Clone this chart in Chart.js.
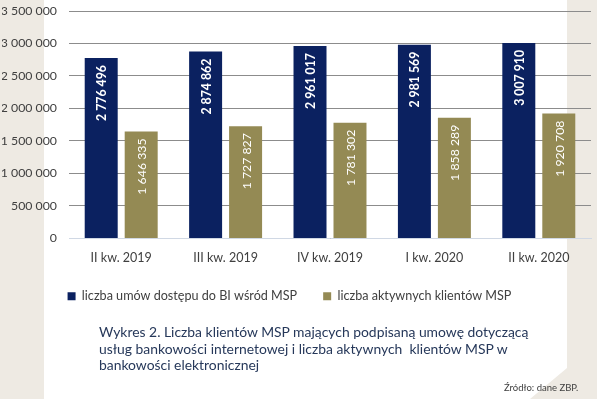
<!DOCTYPE html>
<html>
<head>
<meta charset="utf-8">
<script src="https://cdn.jsdelivr.net/npm/chart.js@4/dist/chart.umd.min.js"></script>
<style>
  html, body { margin: 0; padding: 0; }
  body { width: 597px; height: 399px; position: relative; overflow: hidden; background: #eeeae3; font-family: Lato, sans-serif; }
  #panel { position: absolute; left: 44px; top: 0; width: 523px; height: 399px; background: #fff;
           clip-path: polygon(0 0, 100% 0, 100% 368px, 486px 399px, 0 399px); }
  #wrap { position: absolute; left: 0; top: 0; width: 597px; height: 399px; }
  #caption { position: absolute; left: 99px; top: 324px; white-space: nowrap; font-size: 13.9px; line-height: 16.5px; color: #26385a; }
  #source { position: absolute; left: 504px; top: 382px; font-size: 9.5px; color: #404040; }
</style>
</head>
<body>
<div id="panel"></div>
<div id="wrap"><canvas id="chart" width="597" height="399"></canvas></div>
<div id="caption">Wykres 2. Liczba klientów MSP mających podpisaną umowę dotyczącą<br>usług bankowości internetowej i liczba aktywnych&nbsp; klientów MSP w<br>bankowości elektronicznej</div>
<div id="source">Źródło: dane ZBP.</div>
<script>
const quarters = ['II kw. 2019', 'III kw. 2019', 'IV kw. 2019', 'I kw. 2020', 'II kw. 2020'];
const agreements = [2776496, 2874862, 2961017, 2981569, 3007910];
const activeClients = [1646335, 1727827, 1781302, 1858289, 1920708];
const seriesNames = ['liczba umów dostępu do BI wśród MSP', 'liczba aktywnych klientów MSP'];
const yTicks = [0, 500000, 1000000, 1500000, 2000000, 2500000, 3000000, 3500000];

const fmt = v => String(v).replace(/\B(?=(\d{3})+(?!\d))/g, ' ');

// rotated value labels inside the top of each bar
const barLabels = {
  id: 'barLabels',
  afterLayout(chart) {
    // legend sits a bit left of centre in the original
    chart.legend.left -= 7;
    chart.legend.right -= 7;
  },
  afterDatasetsDraw(chart) {
    const ctx = chart.ctx;
    chart.data.datasets.forEach((ds, i) => {
      const meta = chart.getDatasetMeta(i);
      meta.data.forEach((bar, j) => {
        ctx.save();
        ctx.translate(bar.x, bar.y + 7);
        ctx.rotate(-Math.PI / 2);
        ctx.font = (i === 0 ? 'bold ' : '') + '12.3px Lato';
        ctx.fillStyle = '#fff';
        ctx.textAlign = 'right';
        ctx.textBaseline = 'middle';
        ctx.fillText(fmt(ds.data[j]), 0, 1);
        ctx.restore();
      });
    });
  }
};

new Chart(document.getElementById('chart'), {
  type: 'bar',
  data: {
    labels: quarters,
    datasets: [
      { label: seriesNames[0], data: agreements, backgroundColor: '#0b2160' },
      { label: seriesNames[1], data: activeClients, backgroundColor: '#948a54' }
    ]
  },
  options: {
    responsive: false,
    animation: false,
    categoryPercentage: 0.766,
    barPercentage: 0.825,
    layout: { padding: { left: 2, right: 6, top: 11, bottom: 86.5 } },
    plugins: {
      legend: {
        position: 'bottom',
        labels: {
          boxWidth: 8, boxHeight: 8, padding: 26,
          color: '#404040',
          font: { family: 'Lato', size: 12.6 }
        }
      },
      tooltip: { enabled: false }
    },
    scales: {
      x: {
        afterFit(scale) { scale.height -= 5.5; },
        grid: { display: false },
        border: { color: '#d0d8e4' },
        ticks: { color: '#404040', padding: 4, font: { family: 'Lato', size: 12.5 } }
      },
      y: {
        min: 0, max: 3500000,
        afterFit(scale) { scale.width = 67; },
        afterBuildTicks(scale) { scale.ticks = yTicks.map(v => ({ value: v })); },
        grid: { color: '#8c8c8c', tickLength: 11, tickColor: 'rgba(0,0,0,0)' },
        border: { display: false },
        ticks: { color: '#404040', padding: 1, font: { family: 'Lato', size: 12.3 }, callback: v => fmt(v) }
      }
    }
  },
  plugins: [barLabels]
});
</script>
</body>
</html>
